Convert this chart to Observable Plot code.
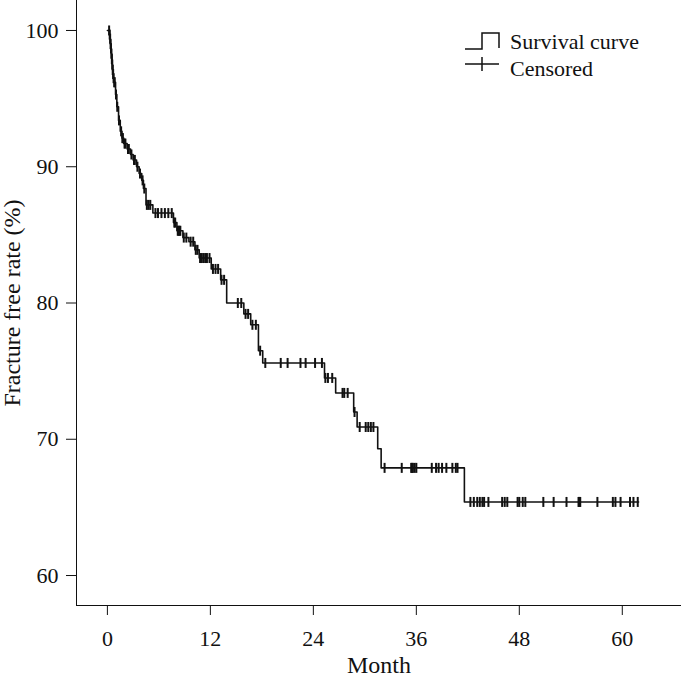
<!DOCTYPE html>
<html><head><meta charset="utf-8">
<script src="https://cdn.jsdelivr.net/npm/d3@7"></script>
<script src="https://cdn.jsdelivr.net/npm/@observablehq/plot@0.6"></script>
<style>
body{margin:0;background:#fff;}
#wrap{position:relative;width:681px;height:678px;font-family:"Liberation Serif",serif;}
#legend{position:absolute;left:464px;top:28px;font-size:22px;color:#111;}
#legend .row{display:flex;align-items:center;height:27px;}
#legend svg{margin-right:10px;overflow:visible}
svg text{fill:#111}
</style></head><body><div id="wrap"></div>
<script>
// Kaplan–Meier step function: month of each drop and the rate after it
const stepMonths = [0, 0.25, 0.3, 0.35, 0.4, 0.45, 0.5, 0.55, 0.6, 0.65, 0.7, 0.75, 0.95, 1.1, 1.3, 1.5, 1.7, 1.9, 2.3, 2.7, 3.0, 3.4, 3.7, 4.0, 4.2, 4.5, 5.3, 7.7, 8.1, 8.8, 9.5, 10.2, 10.7, 12.1, 13.2, 13.9, 15.9, 16.7, 17.6, 18.1, 25.3, 26.6, 28.7, 29.1, 31.5, 31.9, 41.6];
const stepRates  = [100, 99.7, 99.4, 99.0, 98.7, 98.3, 97.9, 97.5, 97.1, 96.8, 96.5, 96.2, 95.3, 94.4, 93.4, 92.6, 92.1, 91.7, 91.3, 90.9, 90.5, 90.0, 89.5, 89.0, 88.4, 87.2, 86.6, 85.9, 85.3, 84.8, 84.5, 83.9, 83.3, 82.5, 81.7, 80.0, 79.2, 78.4, 76.5, 75.6, 74.5, 73.4, 72.0, 70.9, 69.3, 67.9, 65.4];
const endMonth = 61.9;
// Months of censored observations
const censorMonths = [0.2, 0.27, 0.32, 0.37, 0.42, 0.47, 0.52, 0.57, 0.62, 0.67, 0.72, 0.8, 0.85, 1.0, 1.15, 1.35, 1.6, 1.75, 1.8, 2.0, 2.1, 2.4, 2.5, 2.8, 3.1, 3.2, 3.5, 3.8, 4.1, 4.3, 4.6, 4.8, 5.0, 5.6, 5.9, 6.3, 6.7, 7.1, 7.5, 7.8, 7.9, 8.2, 8.3, 8.4, 8.5, 8.9, 9.2, 9.7, 10.0, 10.3, 10.5, 10.8, 11.0, 11.2, 11.4, 11.6, 11.9, 12.3, 12.6, 12.9, 13.3, 13.6, 15.2, 15.6, 16.1, 16.4, 16.9, 17.3, 17.8, 18.4, 20.2, 21.0, 22.5, 23.1, 24.2, 25.0, 25.4, 25.7, 26.2, 27.4, 27.6, 28.0, 28.8, 29.4, 30.1, 30.4, 30.7, 31.0, 32.3, 34.3, 35.4, 35.5, 35.6, 35.8, 36.0, 37.8, 38.3, 38.6, 39.0, 39.5, 40.2, 40.6, 40.8, 42.3, 42.7, 43.1, 43.4, 43.7, 43.9, 44.4, 46.0, 46.3, 46.6, 47.8, 48.0, 48.4, 48.7, 50.8, 52.0, 53.5, 54.9, 55.0, 55.1, 57.1, 58.9, 59.2, 59.8, 60.9, 61.3, 61.8];
const xTicks = [0, 12, 24, 36, 48, 60];
const yTicks = [60, 70, 80, 90, 100];
const legendLabels = ["Survival curve", "Censored"];

const lineData = stepMonths.map((t, i) => ({t, s: stepRates[i]}));
lineData.push({t: endMonth, s: stepRates[stepRates.length - 1]});
const rateAt = t => { let s = stepRates[0]; for (let i = 0; i < stepMonths.length; i++) if (stepMonths[i] <= t) s = stepRates[i]; return s; };
const censorData = censorMonths.map(t => ({t, s: rateAt(t)}));

const vtick = { draw(ctx, size) { const h = Math.sqrt(size / Math.PI); ctx.moveTo(0, -h); ctx.lineTo(0, h); } };

const chart = Plot.plot({
  width: 681, height: 678,
  marginTop: 0, marginRight: 0, marginLeft: 76, marginBottom: 73,
  style: {fontFamily: '"Liberation Serif", serif', fontSize: "22px", color: "#111", background: "#fff"},
  x: {domain: [-3.6, 66.9], ticks: xTicks, tickSize: 10, tickPadding: 15, line: true,
      label: "Month", labelAnchor: "center", labelOffset: 67, labelArrow: "none"},
  y: {domain: [57.8, 102.2], ticks: yTicks, tickSize: 10, tickPadding: 8, line: true,
      label: "Fracture free rate (%)", labelAnchor: "center", labelOffset: 74, labelArrow: "none"},
  marks: [
    Plot.line(lineData, {x: "t", y: "s", curve: "step-after", stroke: "#111", strokeWidth: 1.6}),
    Plot.dot(censorData, {x: "t", y: "s", symbol: vtick, r: 5, fill: "none", stroke: "#111", strokeWidth: 2})
  ]
});
// larger axis titles
chart.querySelectorAll('[aria-label="x-axis label"] text, [aria-label="y-axis label"] text').forEach(t => t.style.fontSize = "24px");
const wrap = document.getElementById("wrap");
wrap.appendChild(chart);

const legend = document.createElement("div");
legend.id = "legend";
legend.innerHTML = `
<div class="row"><svg width="36" height="20"><path d="M1,17H18V1H35V16" fill="none" stroke="#111" stroke-width="1.5"/></svg><span>${legendLabels[0]}</span></div>
<div class="row"><svg width="36" height="20"><path d="M1,5H35M18,-2V12" fill="none" stroke="#111" stroke-width="1.5"/></svg><span>${legendLabels[1]}</span></div>`;
wrap.appendChild(legend);
</script>
</body></html>
